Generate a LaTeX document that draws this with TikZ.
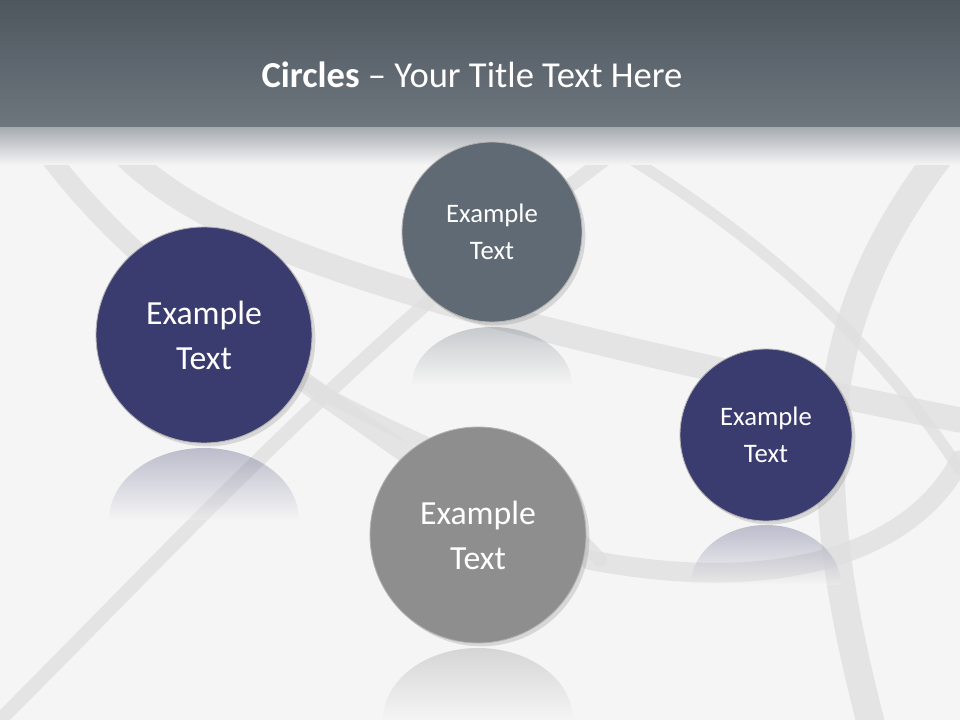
\documentclass[tikz,border=0pt]{standalone}
\usepackage{fontspec}
\setmainfont{Carlito}
\usetikzlibrary{shadows}
\definecolor{navy}{HTML}{3A3B6E}
\definecolor{slate}{HTML}{5F6A74}
\definecolor{midgray}{HTML}{8E8E8E}
\definecolor{hdtop}{HTML}{4E575F}
\definecolor{hdbot}{HTML}{6E767E}
\tikzset{
  ballbig/.style={circle,minimum size=#1,inner sep=0pt,align=center,text=white,draw=white!70!black,line width=0.6pt,font=\fontsize{24}{32}\selectfont},
  ballsmall/.style={circle,minimum size=#1,inner sep=0pt,align=center,text=white,draw=white!70!black,line width=0.6pt,font=\fontsize{19}{26}\selectfont},
  swoosh/.style={line width=#1,draw=black!12,opacity=0.8,line cap=round},
  refl/.style={top color=#1,bottom color=white!96!black,opacity=0.3}
}
\begin{document}
\begin{tikzpicture}[x=0.025cm,y=-0.025cm]
\useasboundingbox (0,0) rectangle (960,720);
\fill[white!96!black] (0,0) rectangle (960,720);
% background swooshes
\draw[swoosh=14pt] (30,130) .. controls (120,260) and (230,330) .. (430,470);
\draw[swoosh=10pt] (0,720) .. controls (200,520) and (400,300) .. (660,120);
\draw[swoosh=18pt] (120,150) .. controls (200,230) and (350,300) .. (960,420);
\draw[swoosh=14pt] (590,560) .. controls (800,600) and (920,540) .. (960,460);
\draw[swoosh=20pt] (960,130) .. controls (820,300) and (800,450) .. (870,720);
\draw[swoosh=8pt] (600,140) .. controls (700,200) and (850,300) .. (960,470);
\draw[swoosh=10pt] (300,380) .. controls (420,450) and (520,470) .. (600,560);
% header
\shade[top color=hdtop,bottom color=hdbot] (0,0) rectangle (960,128);
\shade[top color=hdbot!60!white,bottom color=white!96!black] (0,128) rectangle (960,165);
\node[text=white,font=\fontsize{26}{30}\selectfont] (title) at (472,75) {\textbf{Circles} – Your Title Text Here};
% reflections
\shade[refl=navy] (109,520) arc[start angle=180,end angle=360,x radius=95,y radius=72] -- cycle;
\shade[refl=slate] (412,385) arc[start angle=180,end angle=360,x radius=80,y radius=58] -- cycle;
\shade[refl=navy] (691,585) arc[start angle=180,end angle=360,x radius=75,y radius=60] -- cycle;
\shade[refl=midgray] (383,720) arc[start angle=180,end angle=360,x radius=95,y radius=72] -- cycle;
% circles
\node[ballbig=216*0.025cm,fill=navy,drop shadow={opacity=0.25}] (c1) at (204,335) {Example\\Text};
\node[ballsmall=180*0.025cm,fill=slate,drop shadow={opacity=0.25}] (c2) at (492,232) {Example\\Text};
\node[ballsmall=172*0.025cm,fill=navy,drop shadow={opacity=0.25}] (c3) at (766,435) {Example\\Text};
\node[ballbig=216*0.025cm,fill=midgray,drop shadow={opacity=0.25}] (c4) at (478,535) {Example\\Text};
\end{tikzpicture}
\end{document}
